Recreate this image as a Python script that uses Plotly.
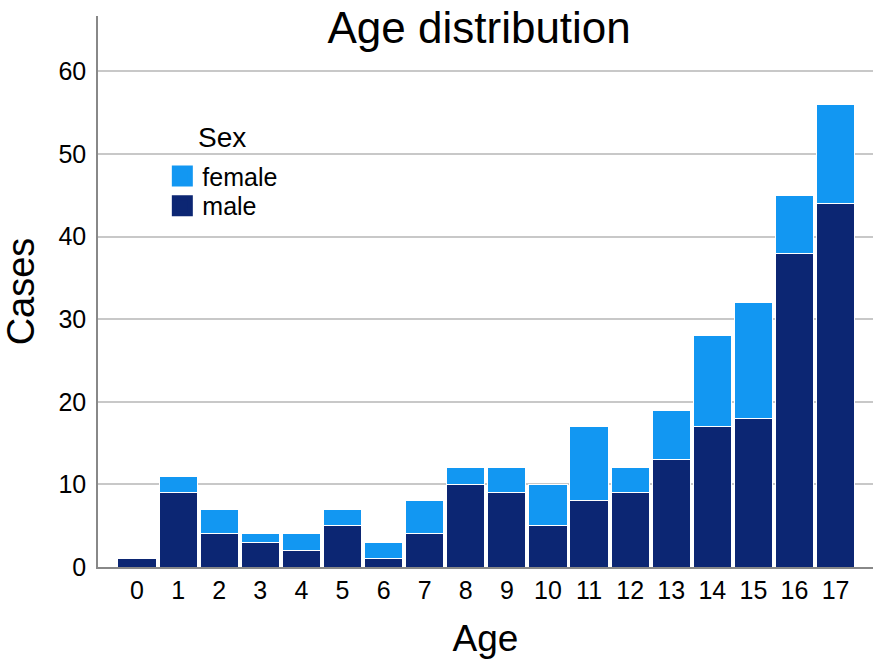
import plotly.graph_objects as go

ages = [str(i) for i in range(18)]
male = [1, 9, 4, 3, 2, 5, 1, 4, 10, 9, 5, 8, 9, 13, 17, 18, 38, 44]
female = [0, 2, 3, 1, 2, 2, 2, 4, 2, 3, 5, 9, 3, 6, 11, 14, 7, 12]
legend_title = "Sex"

FONT = "Liberation Sans, Arial, sans-serif"
C_MALE = "#0c2673"
C_FEMALE = "#1297f2"

fig = go.Figure()
fig.add_trace(go.Bar(x=list(range(18)), y=male, name="male", showlegend=False,
                     marker=dict(color=C_MALE, line=dict(color="#ffffff", width=1))))
fig.add_trace(go.Bar(x=list(range(18)), y=female, name="female", showlegend=False,
                     marker=dict(color=C_FEMALE, line=dict(color="#ffffff", width=1))))
# legend entries with larger square swatches
fig.add_trace(go.Scatter(x=[None], y=[None], mode="markers", name="female", legend="legend",
                         marker=dict(symbol="square", size=16, color=C_FEMALE,
                                     line=dict(color=C_FEMALE, width=5))))
fig.add_trace(go.Scatter(x=[None], y=[None], mode="markers", name="male", legend="legend2",
                         marker=dict(symbol="square", size=16, color=C_MALE,
                                     line=dict(color=C_MALE, width=5))))

fig.update_layout(
    width=876, height=668,
    barmode="stack", bargap=0.07,
    paper_bgcolor="white", plot_bgcolor="white",
    margin=dict(l=98, r=3, t=16, b=101, autoexpand=False),
    font=dict(family=FONT, color="#000000"),
    title=dict(text="Age distribution", x=0.547, xanchor="center", y=0.958, yanchor="middle",
               font=dict(size=44, family=FONT, color="#000"), automargin=False),
    showlegend=True,
    legend=dict(x=0.083, y=0.751, xanchor="left", yanchor="top",
                font=dict(size=25), bgcolor="rgba(0,0,0,0)", itemwidth=30),
    legend2=dict(x=0.083, y=0.697, xanchor="left", yanchor="top",
                 font=dict(size=25), bgcolor="rgba(0,0,0,0)", itemwidth=30),
    annotations=[dict(text=legend_title, xref="paper", yref="paper", x=0.160, y=0.780,
                      xanchor="center", yanchor="middle", showarrow=False,
                      font=dict(size=28, family=FONT, color="#000"))],
    xaxis=dict(range=[-0.95, 17.91], tickmode="array", tickvals=list(range(18)), ticktext=ages,
               showgrid=False, zeroline=False, showline=True, linecolor="#888", linewidth=1.5,
               ticks="", ticklen=0, tickfont=dict(size=25), ticklabelstandoff=0, automargin=False,
               title=dict(text="Age", font=dict(size=37), standoff=22)),
    yaxis=dict(range=[0, 66.7], tickvals=[0, 10, 20, 30, 40, 50, 60],
               showgrid=True, gridcolor="#c8c8c8", gridwidth=1.5, zeroline=False,
               showline=True, linecolor="#888", linewidth=1.5, ticks="", ticklen=0,
               automargin=False, tickfont=dict(size=25), ticklabelstandoff=5,
               title=dict(text="Cases", font=dict(size=38), standoff=18)),
)

fig.write_html(
    "out.html",
    default_width="876px", default_height="668px",
    config={"displayModeBar": False},
    post_script="document.body.style.margin='0';document.documentElement.style.overflow='hidden';document.body.style.overflow='hidden';",
)
